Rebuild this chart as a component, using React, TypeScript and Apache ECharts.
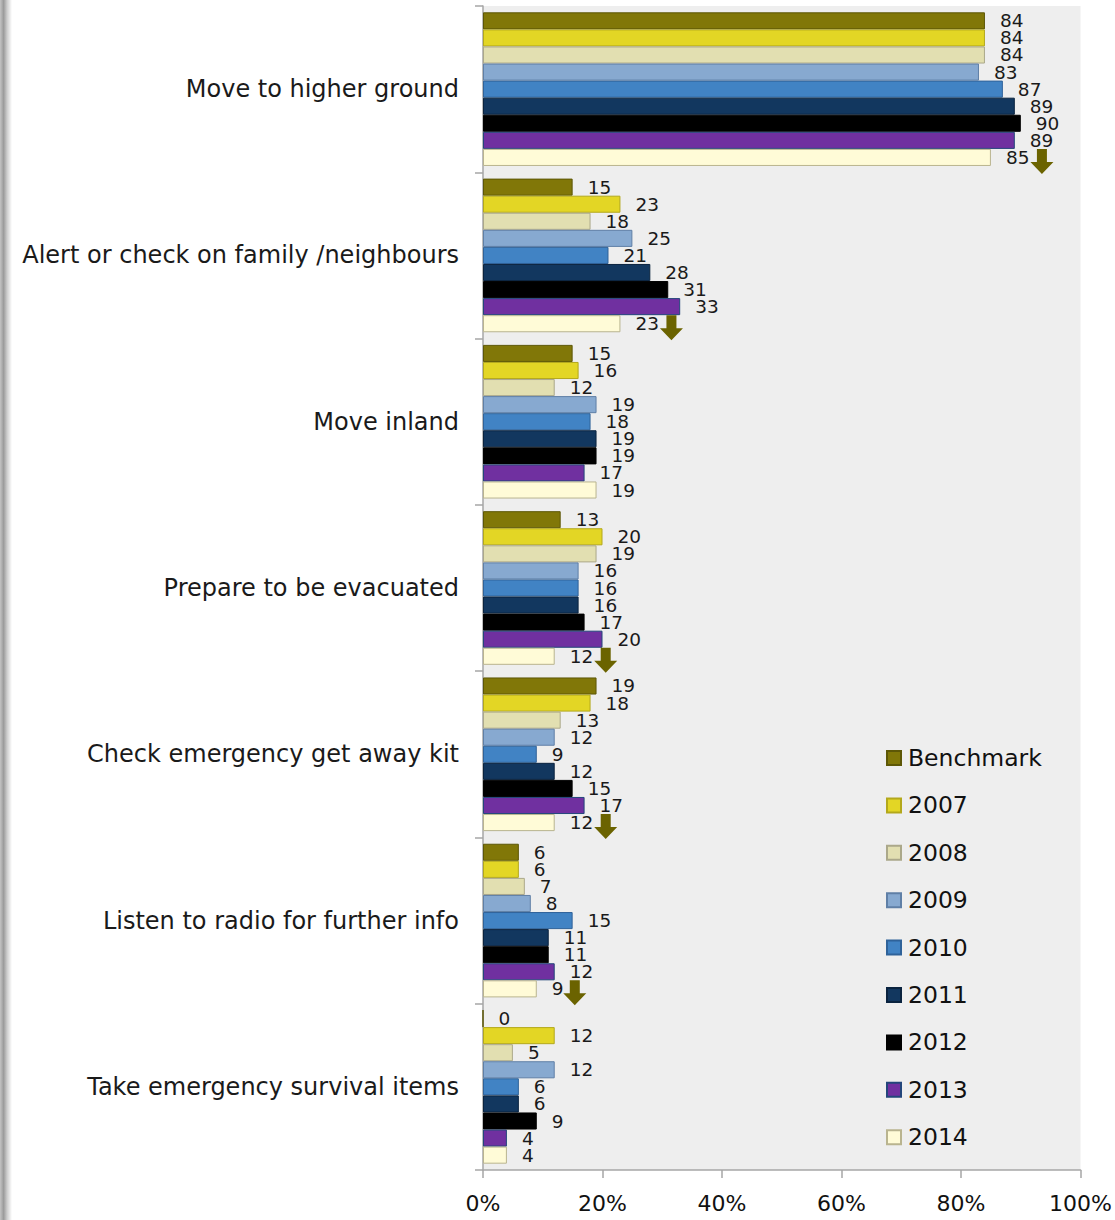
import React, { useEffect, useRef } from "react";
import * as echarts from "echarts";

const categories = [
  "Move to higher ground",
  "Alert or check on family /neighbours",
  "Move inland",
  "Prepare to be evacuated",
  "Check emergency get away kit",
  "Listen to radio for further info",
  "Take emergency survival items",
];
const seriesNames = ["Benchmark", "2007", "2008", "2009", "2010", "2011", "2012", "2013", "2014"];
const benchmark = [84, 15, 15, 13, 19, 6, 0];
const y2007 = [84, 23, 16, 20, 18, 6, 12];
const y2008 = [84, 18, 12, 19, 13, 7, 5];
const y2009 = [83, 25, 19, 16, 12, 8, 12];
const y2010 = [87, 21, 18, 16, 9, 15, 6];
const y2011 = [89, 28, 19, 16, 12, 11, 6];
const y2012 = [90, 31, 19, 17, 15, 11, 9];
const y2013 = [89, 33, 17, 20, 17, 12, 4];
const y2014 = [85, 23, 19, 12, 12, 9, 4];
const significantDrop = [true, true, false, true, true, true, false];
const xTickLabels = ["0%", "20%", "40%", "60%", "80%", "100%"];

const seriesValues = [benchmark, y2007, y2008, y2009, y2010, y2011, y2012, y2013, y2014];
const fills = ["#817708", "#e3d625", "#e2dfb1", "#87a9d0", "#4183c4", "#12375f", "#000000", "#7030a0", "#fffbd7"];
const borders = ["#5d5706", "#b3a81c", "#aba88a", "#5f7fa6", "#2f6299", "#0a233f", "#000000", "#23467b", "#b9b48f"];

const FONT = "DejaVu Sans";
const ARROW = "path://M6.5 0 L16.5 0 L16.5 13 L23 13 L11.5 25 L0 13 L6.5 13 Z";

export default function App() {
  const ref = useRef<HTMLDivElement>(null);
  useEffect(() => {
    document.body.style.margin = "0";
    const chart = echarts.init(ref.current!, null, { renderer: "svg" });
    const series: any[] = seriesNames.map((name, i) => {
      const s: any = {
        name,
        type: "bar",
        data: seriesValues[i],
        barGap: "0%",
        barCategoryGap: "7.6%",
        itemStyle: { color: fills[i], borderColor: borders[i], borderWidth: 1 },
        label: {
          show: true,
          position: "right",
          distance: 15,
          fontSize: 18.5,
          fontFamily: FONT,
          color: "#1a1a1a",
        },
      };
      if (i === seriesNames.length - 1) {
        s.markPoint = {
          symbol: ARROW,
          symbolSize: [23, 25],
          itemStyle: { color: "#6b6300" },
          label: { show: false },
          data: y2014
            .map((v, k) =>
              significantDrop[k]
                ? {
                    coord: [v, categories[k]],
                    symbolOffset: [String(v).length > 1 ? 51 : 38, 4],
                  }
                : null
            )
            .filter((d) => d !== null),
        };
      }
      return s;
    });
    chart.setOption({
      animation: false,
      backgroundColor: "#ffffff",
      textStyle: { fontFamily: FONT },
      graphic: [
        {
          type: "rect",
          left: 0,
          top: 0,
          shape: { width: 12, height: 1220 },
          style: {
            fill: new echarts.graphic.LinearGradient(0, 0, 1, 0, [
              { offset: 0, color: "#c4c4c4" },
              { offset: 0.3, color: "#9b9b9b" },
              { offset: 0.6, color: "#cfcfcf" },
              { offset: 1, color: "#ffffff" },
            ]),
          },
          silent: true,
        },
      ],
      grid: {
        left: 483,
        top: 6,
        width: 600,
        height: 1164,
        show: true,
        backgroundColor: "#eeeeee",
        borderWidth: 0,
      },
      legend: {
        orient: "vertical",
        left: 881,
        top: 741,
        itemWidth: 14,
        itemHeight: 14,
        itemGap: 23.4,
        selectedMode: false,
        icon: "rect",
        textStyle: { fontSize: 23.5, fontFamily: FONT, color: "#111", lineHeight: 24, padding: [0, 0, 0, 2] },
        data: seriesNames,
      },
      xAxis: {
        type: "value",
        min: 0,
        max: 100,
        interval: 20,
        axisLine: { show: true, lineStyle: { color: "#a6a6a6", width: 1.5 } },
        axisTick: { show: true, length: 8, lineStyle: { color: "#a6a6a6", width: 1.5 } },
        splitLine: { show: false },
        axisLabel: {
          margin: 22,
          fontSize: 22,
          fontFamily: FONT,
          color: "#111",
          formatter: (v: number) => xTickLabels[Math.round(v / 20)],
        },
      },
      yAxis: {
        type: "category",
        data: categories,
        inverse: true,
        axisLine: { show: true, lineStyle: { color: "#a6a6a6", width: 1.5 } },
        axisTick: { show: true, length: 8, lineStyle: { color: "#a6a6a6", width: 1.5 } },
        axisLabel: { margin: 24, fontSize: 24, fontFamily: FONT, color: "#1a1a1a" },
      },
      series,
    });
    return () => chart.dispose();
  }, []);
  return <div ref={ref} style={{ width: 1115, height: 1220 }} />;
}
